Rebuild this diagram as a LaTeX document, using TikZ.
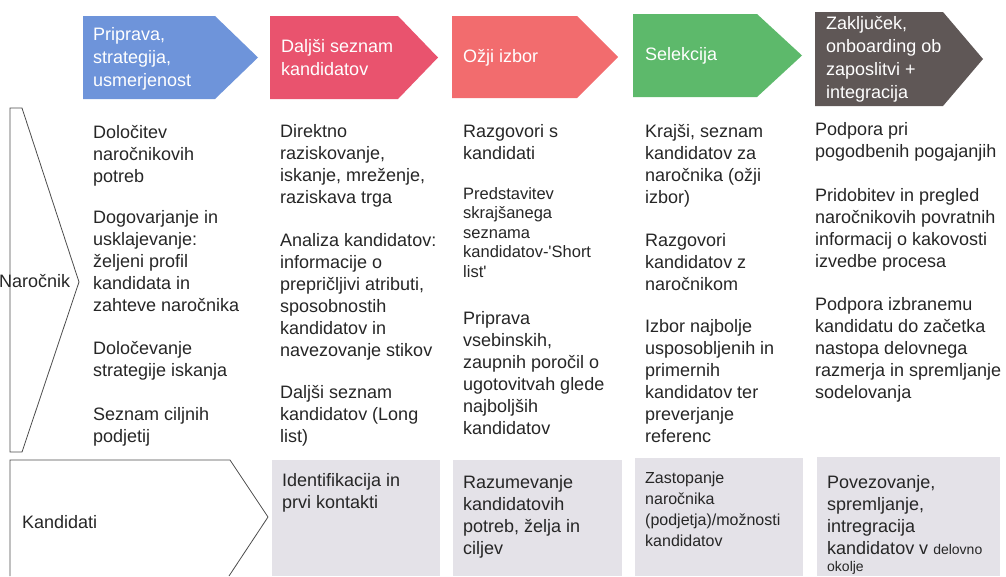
\documentclass[tikz,border=0pt]{standalone}
\usepackage{fontspec}
\setmainfont{Liberation Sans}
\definecolor{prepblue}{HTML}{6E94DA}
\definecolor{longred}{HTML}{E9536E}
\definecolor{shortred}{HTML}{F26C6E}
\definecolor{selgreen}{HTML}{5DB96B}
\definecolor{closegrey}{HTML}{5F5756}
\definecolor{candgrey}{HTML}{E4E2E8}
\def\phase[#1](#2:#3:#4:#5:#6) % Syntax: [fill colour] (left:body end:tip:top:bottom)
    { \fill[#1] (#2,#5) -- (#3,#5) -- (#4,{(#5+#6)/2}) -- (#3,#6) -- (#2,#6) -- cycle; }

\begin{document}
\begin{tikzpicture}[x=1pt, y=-1pt,
  txt/.style={inner sep=0pt, anchor=north west, align=left, text=black!85, font=\fontsize{18}{22}\selectfont},
  smalltxt/.style={txt, font=\fontsize{16.5}{19.5}\selectfont},
  head/.style={inner sep=0pt, anchor=west, align=left, text=white, font=\fontsize{18}{23}\selectfont},
  outline/.style={draw=black!70, line width=0.8pt, line join=miter}]

\useasboundingbox (0,0) rectangle (1006,576);

% phases
\phase[prepblue](83:215:258:16:99)
\phase[longred](270:398:438:16:99)
\phase[shortred](452:577:618:16:98)
\phase[selgreen](633:757:802:14:97)
\phase[closegrey](815:943:983:12:106)

\node[head] (prep) at (93,59) {Priprava,\\strategija,\\usmerjenost};
\node[head] (long) at (281,58) {Daljši seznam\\kandidatov};
\node[head] (short) at (463,58) {Ožji izbor};
\node[head] (sel) at (645,56) {Selekcija};
\node[head] (close) at (826,59) {Zaključek,\\onboarding ob\\zaposlitvi +\\integracija};

% rows
\draw[outline] (10,108) -- (22,108) -- (79,282) -- (22,452) -- (10,452) -- cycle;
\draw[outline] (10,576) -- (10,460) -- (230,460) -- (268,517) -- (229,576);
\node[txt] (client) at (-1,274) {Naročnik};
\node[txt] (cand) at (22,515) {Kandidati};

\fill[candgrey] (272,460) rectangle (440,576);
\fill[candgrey] (453,460) rectangle (622,576);
\fill[candgrey] (635,458) rectangle (803,576);
\fill[candgrey] (817,457) rectangle (1000,576);

% client tasks
\node[txt] (prepa) at (93,125) {Določitev\\naročnikovih\\potreb};
\node[txt] (prepb) at (93,210) {Dogovarjanje in\\usklajevanje:\\željeni profil\\kandidata in\\zahteve naročnika};
\node[txt] (prepc) at (93,341) {Določevanje\\strategije iskanja};
\node[txt] (prepd) at (93,407) {Seznam ciljnih\\podjetij};

\node[txt] (longa) at (280,124) {Direktno\\raziskovanje,\\iskanje, mreženje,\\raziskava trga};
\node[txt] (longb) at (280,233) {Analiza kandidatov:\\informacije o\\prepričljivi atributi,\\sposobnostih\\kandidatov in\\navezovanje stikov};
\node[txt] (longc) at (280,385) {Daljši seznam\\kandidatov (Long\\list)};

\node[txt] (shorta) at (463,124) {Razgovori s\\kandidati};
\node[smalltxt] (shortb) at (463,187) {Predstavitev\\skrajšanega\\seznama\\kandidatov-\textquotesingle Short\\list\textquotesingle};
\node[txt] (shortc) at (463,311) {Priprava\\vsebinskih,\\zaupnih poročil o\\ugotovitvah glede\\najboljših\\kandidatov};

\node[txt] (sela) at (645,124) {Krajši, seznam\\kandidatov za\\naročnika (ožji\\izbor)};
\node[txt] (selb) at (645,233) {Razgovori\\kandidatov z\\naročnikom};
\node[txt] (selc) at (645,319) {Izbor najbolje\\usposobljenih in\\primernih\\kandidatov ter\\preverjanje\\referenc};

\node[txt] (closea) at (815,122) {Podpora pri\\pogodbenih pogajanjih};
\node[txt] (closeb) at (815,188) {Pridobitev in pregled\\naročnikovih povratnih\\informacij o kakovosti\\izvedbe procesa};
\node[txt] (closec) at (815,297) {Podpora izbranemu\\kandidatu do začetka\\nastopa delovnega\\razmerja in spremljanje\\sodelovanja};

% candidate tasks
\node[txt] (longk) at (282,473) {Identifikacija in\\prvi kontakti};
\node[txt] (shortk) at (463,475) {Razumevanje\\kandidatovih\\potreb, želja in\\ciljev};
\node[txt, font=\fontsize{16}{21}\selectfont] (selk) at (645,471.5) {Zastopanje\\naročnika\\(podjetja)/možnosti\\kandidatov};
\node[txt] (closek) at (827,475) {Povezovanje,\\spremljanje,\\intregracija\\kandidatov v {\fontsize{14}{19}\selectfont delovno}\\[-5pt]{\fontsize{14}{19}\selectfont okolje}};

\end{tikzpicture}
\end{document}
